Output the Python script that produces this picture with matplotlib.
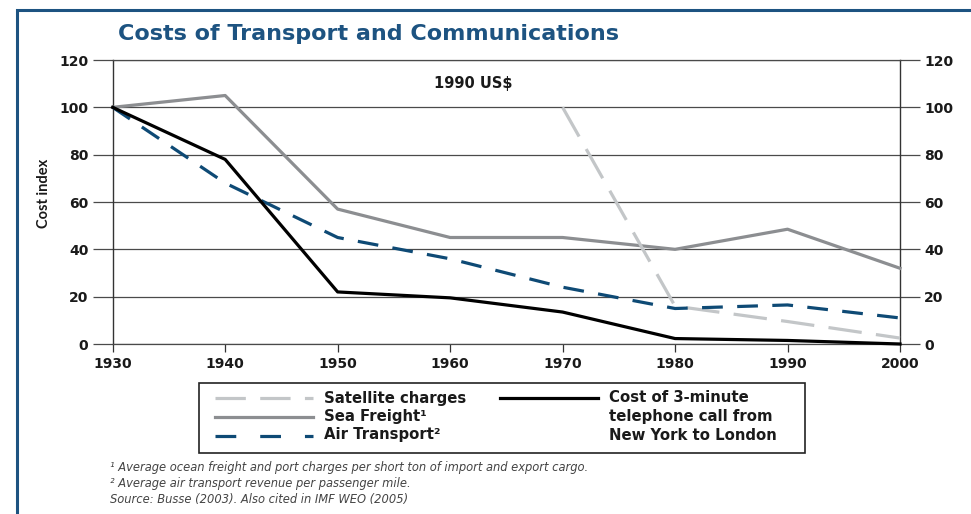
import matplotlib.pyplot as plt
from matplotlib.patches import Rectangle
from matplotlib.lines import Line2D

plt.rcParams['font.family'] = ['DejaVu Sans']

years = [1930, 1940, 1950, 1960, 1970, 1980, 1990, 2000]
sea_freight = [100, 105, 57, 45, 45, 40, 48.5, 32]
air_transport = [100, 68, 45, 36, 24, 15, 16.5, 11]
telephone = [100, 78, 22, 19.5, 13.5, 2.3, 1.5, 0]
sat_years = [1970, 1980, 1990, 2000]
satellite = [100, 16, 9.5, 2.5]
y_ticks = [0, 20, 40, 60, 80, 100, 120]

NAVY = '#0e4a75'
FRAME = '#1d5381'
TXT = '#1a1a1a'
W, H = 971, 514


def fx(px):
    return px / W


def fy(py):
    return 1 - py / H


fig = plt.figure(figsize=(W / 100, H / 100), dpi=100)
ax = fig.add_axes([fx(112.7), fy(344), fx(900 - 112.7), (344 - 60) / H])

ax.plot(years, sea_freight, color='#8c8e91', lw=2.3, clip_on=False, zorder=3)
ax.plot(sat_years, satellite, color='#c3c6c8', lw=2.3, dashes=(10.5, 4.5), clip_on=False, zorder=4)
ax.plot(years, air_transport, color=NAVY, lw=2.3, dashes=(6.5, 4.5), clip_on=False, zorder=5)
ax.plot(years, telephone, color='black', lw=2.3, clip_on=False, zorder=6)

ax.set_xlim(1930, 2000)
ax.set_ylim(0, 120)
ax.set_xticks(years)
ax.set_yticks(y_ticks)
ax.yaxis.grid(True, color='#4a4a4a', lw=0.9)
ax.set_axisbelow(True)
for side in ['top', 'bottom']:
    ax.spines[side].set_color('#4a4a4a')
    ax.spines[side].set_linewidth(0.9)
for side in ['left', 'right']:
    ax.spines[side].set_color('#333333')
    ax.spines[side].set_linewidth(1.0)

ax.tick_params(axis='y', left=True, right=True, labelleft=True, labelright=True,
               length=14.5, width=0.9, color='#4a4a4a', pad=3, labelsize=10)
ax.tick_params(axis='x', length=5.5, width=0.9, color='#333333', pad=4, labelsize=10)
for lab in ax.get_xticklabels() + ax.get_yticklabels():
    lab.set_fontweight('bold')
    lab.set_color(TXT)

ax.set_ylabel('Cost index', fontsize=10.5, fontweight='bold', color=TXT, family='Lato')
ax.yaxis.set_label_coords(-0.079, 0.53)
ax.text(0.458, 0.917, '1990 US$', transform=ax.transAxes, ha='center', va='center',
        fontsize=10.5, fontweight='bold', color=TXT)

fig.text(fx(118), fy(40.5), 'Costs of Transport and Communications', ha='left',
         va='baseline', fontsize=16, fontweight='bold', color=FRAME)

# legend box
fig.add_artist(Rectangle((fx(199), fy(453)), fx(805) - fx(199), fy(383) - fy(453),
                         transform=fig.transFigure, fill=False, ec='#222222', lw=1.2))
leg_kw = dict(fontsize=10.7, fontweight='bold', color=TXT, va='center', ha='left')
fig.add_artist(Line2D([fx(215), fx(313)], [fy(398)] * 2, color='#c3c6c8', lw=2.3, dashes=(9.5, 4.5)))
fig.add_artist(Line2D([fx(215), fx(313)], [fy(417)] * 2, color='#8c8e91', lw=2.3))
fig.add_artist(Line2D([fx(215), fx(313)], [fy(436)] * 2, color=NAVY, lw=2.3, dashes=(6.5, 7.5)))
fig.add_artist(Line2D([fx(500), fx(598)], [fy(398)] * 2, color='black', lw=2.3))
fig.text(fx(324), fy(398), 'Satellite charges', **leg_kw)
fig.text(fx(324), fy(416), 'Sea Freight¹', **leg_kw)
fig.text(fx(324), fy(435), 'Air Transport²', **leg_kw)
fig.text(fx(609), fy(398), 'Cost of 3-minute', **leg_kw)
fig.text(fx(609), fy(416), 'telephone call from', **leg_kw)
fig.text(fx(609), fy(435), 'New York to London', **leg_kw)

note_kw = dict(fontsize=8.3, style='italic', color='#444444', va='center', ha='left')
fig.text(fx(110), fy(468), '¹ Average ocean freight and port charges per short ton of import and export cargo.', **note_kw)
fig.text(fx(110), fy(484), '² Average air transport revenue per passenger mile.', **note_kw)
fig.text(fx(110), fy(500), 'Source: Busse (2003). Also cited in IMF WEO (2005)', **note_kw)

# outer frame
fig.add_artist(Rectangle((fx(17), -0.5), 2, fy(10) + 0.5, transform=fig.transFigure,
                         fill=False, ec=FRAME, lw=2.2))

fig.savefig('out.png', dpi=100)
